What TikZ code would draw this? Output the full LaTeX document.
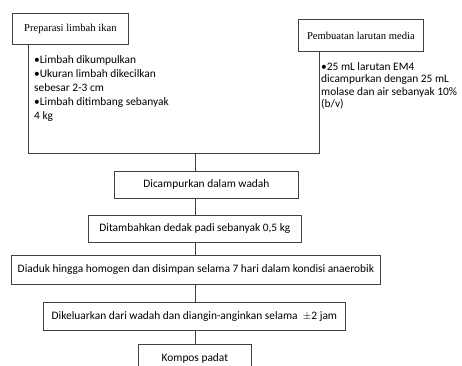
\documentclass[tikz,border=0pt]{standalone}
\usepackage{fontspec}
\setmainfont{Carlito}
\newfontfamily\serifbox{Liberation Serif}
\begin{document}
\begin{tikzpicture}[x=1pt,y=-1pt,
  box/.style={draw=black!75,line width=0.8pt,rectangle,inner sep=0pt,anchor=north west},
  lbl/.style={font=\fontsize{11.4}{13}\selectfont},
  slbl/.style={font=\serifbox\fontsize{10.6}{12}\selectfont},
  bul/.style={font=\fontsize{11.4}{14}\selectfont,align=left,anchor=north west,inner sep=0pt},
  conn/.style={draw=black!75,line width=0.8pt}]
\useasboundingbox (0,0) rectangle (462,365);
\node[box,minimum width=116pt,minimum height=31pt] (b1) at (12,13) {};
\node[slbl] at (b1.center) {Preparasi limbah ikan};
\node[box,minimum width=125pt,minimum height=32pt] (b2) at (298,19) {};
\node[slbl] at (b2.center) {Pembuatan larutan media};
\node[bul] (t1) at (34,55) {•Limbah dikumpulkan\\•Ukuran limbah dikecilkan\\sebesar 2-3 cm\\•Limbah ditimbang sebanyak\\4 kg};
\node[bul,font=\fontsize{11.4}{12.5}\selectfont] (t2) at (321,62) {•25 mL larutan EM4\\dicampurkan dengan 25 mL\\molase dan air sebanyak 10\%\\(b/v)};
\coordinate (c1) at (28,153);
\coordinate (c2) at (319,153);
\coordinate (m) at (195,153);
\node[box,minimum width=184pt,minimum height=27pt] (b3) at (114,171) {};
\node[lbl] at (b3.center) {Dicampurkan dalam wadah};
\node[box,minimum width=213pt,minimum height=27pt] (b4) at (88,215) {};
\node[lbl] at (b4.center) {Ditambahkan dedak padi sebanyak 0,5 kg};
\node[box,minimum width=369pt,minimum height=29pt] (b5) at (11,255) {};
\node[lbl] at (b5.center) {Diaduk hingga homogen dan disimpan selama 7 hari dalam kondisi anaerobik};
\node[box,minimum width=302pt,minimum height=28pt] (b6) at (43,302) {};
\node[lbl] at (b6.center) {Dikeluarkan dari wadah dan diangin-anginkan selama \ $\pm$2 jam};
\node[box,minimum width=113pt,minimum height=28pt] (b7) at (138,344) {};
\node[lbl] at (b7.center) {Kompos padat};
\draw[conn] (b1.south -| c1) -- (c1) -- (c2) -- (b2.south -| c2);
\draw[conn] (m) -- (b3.north -| m);
\draw[conn] (b3.south -| m) -- (b4.north -| m);
\draw[conn] (b4.south -| m) -- (b5.north -| m);
\draw[conn] (b5.south -| m) -- (b6.north -| m);
\draw[conn] (b6.south -| m) -- (b7.north -| m);
\end{tikzpicture}
\end{document}
